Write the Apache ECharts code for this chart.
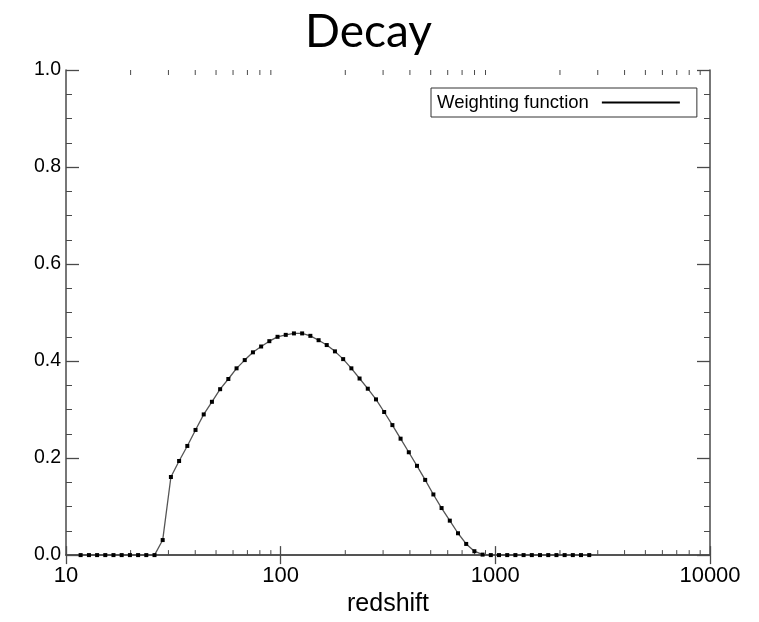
<!DOCTYPE html>
<html>
<head>
<meta charset="utf-8">
<title>Decay</title>
<script src="https://cdn.jsdelivr.net/npm/echarts@6/dist/echarts.min.js"></script>
<style>
  html, body { margin: 0; padding: 0; background: #fff; }
  #chart { width: 759px; height: 622px; }
</style>
</head>
<body>
<div id="chart"></div>
<script>
// Redshift sample points (log-spaced grid)
const redshift = [
  11.70, 12.79, 13.96, 15.24, 16.64, 18.17, 19.85, 21.67, 23.66, 25.84,
  28.21, 30.81, 33.64, 36.74, 40.12, 43.81, 47.84, 52.24, 57.05, 62.30,
  68.02, 74.28, 81.10, 88.56, 96.70, 105.6, 115.3, 125.9, 137.5, 150.2,
  163.9, 179.0, 195.5, 213.5, 233.1, 254.6, 278.0, 303.5, 331.5, 361.9,
  395.3, 431.5, 471.2, 514.5, 561.8, 613.6, 670.0, 731.6, 798.8, 872.3,
  952.6, 1040, 1136, 1240, 1354, 1479, 1615, 1764, 1926, 2103,
  2296, 2507, 2738
];

// Weighting function value at each redshift
const weighting = [
  0, 0, 0, 0, 0, 0, 0, 0, 0, 0,
  0.031, 0.161, 0.194, 0.225, 0.258, 0.290, 0.316, 0.342, 0.363, 0.385,
  0.402, 0.418, 0.430, 0.441, 0.450, 0.454, 0.457, 0.457, 0.452, 0.443,
  0.433, 0.420, 0.404, 0.385, 0.364, 0.343, 0.321, 0.295, 0.268, 0.240,
  0.212, 0.184, 0.155, 0.125, 0.097, 0.071, 0.045, 0.023, 0.008, 0.001,
  0, 0, 0, 0, 0, 0, 0, 0, 0, 0,
  0, 0, 0
];

// Intermediate tick positions on the logarithmic redshift axis
const xMinorTicks = [
  20, 30, 40, 50, 60, 70, 80, 90,
  200, 300, 400, 500, 600, 700, 800, 900,
  2000, 3000, 4000, 5000, 6000, 7000, 8000, 9000
];

const seriesName = 'Weighting function';
const frameColor = '#4a4a4a';
const labelFont = 'Liberation Sans, Arial, Helvetica, sans-serif';

const chart = echarts.init(document.getElementById('chart'), null, { renderer: 'canvas' });

const points = redshift.map((z, i) => [z, weighting[i]]);

chart.setOption({
  animation: false,
  backgroundColor: '#fff',
  title: {
    text: 'Decay',
    left: 300,
    top: 4,
    textStyle: { fontFamily: 'Lato, Open Sans, sans-serif', fontWeight: 'normal', fontSize: 46, color: '#000' }
  },
  legend: {
    data: [{ name: seriesName, icon: 'rect', itemStyle: { color: '#000' } }],
    left: 431,
    top: 88,
    align: 'right',
    itemWidth: 78,
    itemHeight: 2,
    padding: [5, 17, 5, 6],
    borderColor: '#333',
    borderWidth: 1,
    borderRadius: 0,
    selectedMode: false,
    textStyle: { fontFamily: labelFont, fontSize: 18.5, color: '#000', padding: [0, 8, 0, 0], lineHeight: 19 }
  },
  grid: { left: 66, right: 49, top: 70, bottom: 65, containLabel: false },
  xAxis: [
    {
      type: 'log',
      logBase: 10,
      min: 10,
      max: 10000,
      position: 'bottom',
      name: 'redshift',
      nameLocation: 'middle',
      nameGap: 36,
      nameTextStyle: { fontFamily: labelFont, fontSize: 25, color: '#000' },
      axisLine: { show: true, lineStyle: { color: frameColor, width: 1.5 } },
      axisTick: { show: true, inside: true, length: 9, lineStyle: { color: frameColor, width: 1.3 } },
      axisLabel: {
        fontFamily: labelFont, fontSize: 22, color: '#000', margin: 10,
        formatter: v => String(Math.round(v))
      },
      splitLine: { show: false }
    },
    {
      type: 'log',
      logBase: 10,
      min: 10,
      max: 10000,
      position: 'top',
      axisLine: { show: true, lineStyle: { color: frameColor, width: 1.5 } },
      axisTick: { show: true, inside: true, length: 9, lineStyle: { color: frameColor, width: 1.3 } },
      axisLabel: { show: false },
      splitLine: { show: false }
    }
  ],
  yAxis: [
    {
      type: 'value',
      min: 0,
      max: 1,
      interval: 0.2,
      position: 'left',
      axisLine: { show: true, lineStyle: { color: frameColor, width: 1.5 } },
      axisTick: { show: true, inside: true, length: 13, lineStyle: { color: frameColor, width: 1.3 } },
      minorTick: { show: true, splitNumber: 4, length: 6, lineStyle: { color: frameColor, width: 1 } },
      axisLabel: {
        fontFamily: labelFont, fontSize: 19.5, color: '#000', margin: 5,
        formatter: v => v.toFixed(1)
      },
      splitLine: { show: false }
    },
    {
      type: 'value',
      min: 0,
      max: 1,
      interval: 0.2,
      position: 'right',
      axisLine: { show: true, lineStyle: { color: frameColor, width: 1.5 } },
      axisTick: { show: true, inside: true, length: 13, lineStyle: { color: frameColor, width: 1.3 } },
      minorTick: { show: true, splitNumber: 4, length: 6, lineStyle: { color: frameColor, width: 1 } },
      axisLabel: { show: false },
      splitLine: { show: false }
    }
  ],
  series: [
    {
      // minor ticks on the bottom and top edges of the log axis
      type: 'custom',
      name: 'minor ticks',
      xAxisIndex: 0,
      yAxisIndex: 0,
      silent: true,
      data: xMinorTicks.map(v => [v, 0]),
      renderItem: (params, api) => {
        const v = api.value(0);
        const bottom = api.coord([v, 0]);
        const top = api.coord([v, 1]);
        const style = { stroke: frameColor, lineWidth: 1 };
        return {
          type: 'group',
          children: [
            { type: 'line', shape: { x1: bottom[0], y1: bottom[1], x2: bottom[0], y2: bottom[1] - 5 }, style },
            { type: 'line', shape: { x1: top[0], y1: top[1], x2: top[0], y2: top[1] + 5 }, style }
          ]
        };
      },
      z: 1
    },
    {
      type: 'line',
      name: seriesName,
      xAxisIndex: 0,
      yAxisIndex: 0,
      data: points,
      symbol: 'rect',
      symbolSize: 4,
      showAllSymbol: true,
      itemStyle: { color: '#000' },
      lineStyle: { color: '#555', width: 1.3 },
      z: 3
    }
  ]
});
</script>
</body>
</html>
